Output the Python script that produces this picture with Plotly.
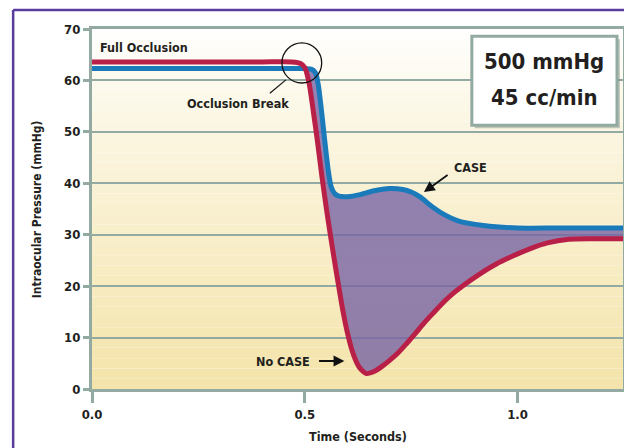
import plotly.graph_objects as go

# ---------------- data ----------------
t_no_case = [0.00, 0.10, 0.20, 0.30, 0.40, 0.47, 0.49, 0.50, 0.51, 0.52, 0.53, 0.54,
             0.55, 0.56, 0.57, 0.58, 0.59, 0.60, 0.61, 0.62, 0.63, 0.645, 0.66, 0.68,
             0.70, 0.72, 0.74, 0.76, 0.78, 0.80, 0.83, 0.85, 0.87, 0.91, 0.95, 0.99,
             1.03, 1.07, 1.12, 1.18, 1.25]
p_no_case = [63.6, 63.6, 63.6, 63.6, 63.6, 63.6, 63.3, 62.5, 59.5, 54.0, 48.0, 41.5,
             35.5, 30.0, 24.8, 19.8, 15.0, 11.0, 7.8, 5.5, 4.0, 3.0, 3.3, 4.3,
             5.6, 7.1, 8.9, 10.8, 12.8, 14.6, 17.2, 18.7, 20.0, 22.3, 24.3, 25.9,
             27.3, 28.4, 29.1, 29.2, 29.2]

t_case = [0.00, 0.10, 0.20, 0.30, 0.40, 0.50, 0.515, 0.525, 0.532, 0.538, 0.544, 0.55,
          0.556, 0.562, 0.57, 0.58, 0.60, 0.63, 0.66, 0.70, 0.73, 0.75, 0.77, 0.80,
          0.83, 0.86, 0.92, 1.00, 1.10, 1.25]
p_case = [62.3, 62.3, 62.3, 62.3, 62.3, 62.3, 62.2, 61.5, 59.0, 55.0, 50.5, 46.0,
          42.0, 39.3, 38.0, 37.5, 37.4, 37.8, 38.5, 39.0, 38.8, 38.3, 37.4, 35.4,
          33.8, 32.7, 31.8, 31.3, 31.3, 31.3]

x_ticks = [0.0, 0.5, 1.0]
x_tick_labels = ["0.0", "0.5", "1.0"]
y_ticks = [0, 10, 20, 30, 40, 50, 60, 70]

# ---------------- styling ----------------
FONT = "DejaVu Sans Condensed, Liberation Sans, sans-serif"
TXT = "#231f20"
GRID = "#93aaa3"
RED = "rgb(185,32,72)"
BLUE = "rgb(26,122,186)"
FILL = "rgba(120,100,165,0.8)"
X_MAX = 1.2477
SM = 0.75

fig = go.Figure()

# purple fill between the curves after the occlusion break
fill_idx_r = [i for i, t in enumerate(t_no_case) if t >= 0.5]
fill_idx_b = [i for i, t in enumerate(t_case) if t >= 0.5]
fig.add_trace(go.Scatter(x=[t_no_case[i] for i in fill_idx_r],
                         y=[p_no_case[i] for i in fill_idx_r],
                         mode="lines", line=dict(width=0, shape="spline", smoothing=SM),
                         hoverinfo="skip", showlegend=False))
fig.add_trace(go.Scatter(x=[t_case[i] for i in fill_idx_b],
                         y=[p_case[i] for i in fill_idx_b],
                         mode="lines", line=dict(width=0, shape="spline", smoothing=SM),
                         fill="tonexty", fillcolor=FILL,
                         hoverinfo="skip", showlegend=False))

# CASE curve (blue)
fig.add_trace(go.Scatter(x=t_case, y=p_case, mode="lines", name="CASE",
                         line=dict(color=BLUE, width=5, shape="spline", smoothing=SM),
                         showlegend=False))
# No CASE curve (red)
fig.add_trace(go.Scatter(x=t_no_case, y=p_no_case, mode="lines", name="No CASE",
                         line=dict(color=RED, width=5, shape="spline", smoothing=SM),
                         showlegend=False))

shapes = []
# gradient background bands (white at top -> pale yellow at bottom)
top = (255, 255, 255)
bot = (244, 228, 170)
n = 35
for k in range(n):
    y0 = 70 * k / n
    y1 = 70 * (k + 1) / n
    f = 1 - (k + 0.5) / n  # 1 at bottom, 0 at top
    f = f ** 0.85
    c = tuple(round(top[j] + (bot[j] - top[j]) * f) for j in range(3))
    shapes.append(dict(type="rect", xref="paper", yref="y", x0=0, x1=1, y0=y0, y1=y1,
                       fillcolor="rgb(%d,%d,%d)" % c, line=dict(width=0), layer="below"))

# occlusion break circle
shapes.append(dict(type="circle", xref="x", yref="y",
                   x0=0.493 - 0.0467, x1=0.493 + 0.0467, y0=63.4 - 3.9, y1=63.4 + 3.9,
                   line=dict(color="#111111", width=1.3)))
# leader line from circle to label
shapes.append(dict(type="line", xref="x", yref="y", x0=0.4556, y0=60.1, x1=0.418, y1=57.5,
                   line=dict(color="#111111", width=1.2)))

# parameter box (shadow + box)
shapes.append(dict(type="rect", xref="x", yref="y", x0=0.8995, x1=1.2406, y0=50.7, y1=68.0,
                   fillcolor="rgba(90,110,100,0.35)", line=dict(width=0)))
shapes.append(dict(type="rect", xref="x", yref="y", x0=0.8925, x1=1.2336, y0=51.3, y1=68.6,
                   fillcolor="white", line=dict(color=GRID, width=3)))

# outer purple frame
shapes.append(dict(type="line", xref="paper", yref="paper", x0=-0.1485, x1=-0.1485,
                   y0=1.053, y1=-0.25, line=dict(color="#5a3c9c", width=2.5)))
shapes.append(dict(type="line", xref="paper", yref="paper", x0=-0.1485, x1=1.05,
                   y0=1.053, y1=1.053, line=dict(color="#5a3c9c", width=2.5)))

LBL = 12.5
annotations = [
    dict(x=0.014, y=66.5, xref="x", yref="y", text="<b>Full Occlusion</b>",
         showarrow=False, xanchor="left", yanchor="middle", font=dict(size=LBL)),
    dict(x=0.468, y=55.6, xref="x", yref="y", text="<b>Occlusion Break</b>",
         showarrow=False, xanchor="right", yanchor="middle", font=dict(size=LBL)),
    dict(x=0.846, y=43.0, xref="x", yref="y", text="<b>CASE</b>",
         showarrow=False, xanchor="left", yanchor="middle", font=dict(size=LBL)),
    dict(x=0.780, y=38.3, ax=0.839, ay=41.8, xref="x", yref="y", axref="x", ayref="y",
         text="", showarrow=True, arrowhead=2, arrowsize=1.2, arrowwidth=1.8,
         arrowcolor="#111111"),
    dict(x=0.516, y=5.44, xref="x", yref="y", text="<b>No CASE</b>",
         showarrow=False, xanchor="right", yanchor="middle", font=dict(size=LBL)),
    dict(x=0.593, y=5.44, ax=0.530, ay=5.44, xref="x", yref="y", axref="x", ayref="y",
         text="", showarrow=True, arrowhead=2, arrowsize=1.2, arrowwidth=1.8,
         arrowcolor="#111111"),
    dict(x=1.063, y=63.6, xref="x", yref="y", text="<b>500 mmHg</b>", showarrow=False,
         xanchor="center", yanchor="middle", font=dict(size=22)),
    dict(x=1.063, y=56.6, xref="x", yref="y", text="<b>45 cc/min</b>", showarrow=False,
         xanchor="center", yanchor="middle", font=dict(size=22)),
    # axis titles
    dict(x=0.5, y=-0.1306, xref="paper", yref="paper", text="<b>Time (Seconds)</b>",
         showarrow=False, xanchor="center", yanchor="middle", font=dict(size=12.5)),
    dict(x=-0.103, y=0.5, xref="paper", yref="paper",
         text="<b>Intraocular Pressure (mmHg)</b>", textangle=-90,
         showarrow=False, xanchor="center", yanchor="middle", font=dict(size=12)),
]

fig.update_layout(
    width=624, height=440,
    margin=dict(l=84, r=6, t=21, b=59),
    paper_bgcolor="white",
    plot_bgcolor="white",
    font=dict(family=FONT, color=TXT, size=13),
    shapes=shapes,
    annotations=annotations,
    showlegend=False,
    xaxis=dict(range=[0, X_MAX], tickvals=x_ticks, ticktext=["<b>%s</b>" % s for s in x_tick_labels],
               showgrid=False, zeroline=False, showline=True, linecolor=GRID, linewidth=3,
               mirror=True, ticks="outside", ticklen=11, tickwidth=3, tickcolor=GRID,
               tickfont=dict(size=13, color=TXT, family=FONT)),
    yaxis=dict(range=[0, 70], tickvals=y_ticks, ticktext=["<b>%d</b>" % v for v in y_ticks],
               showgrid=True, gridcolor=GRID, gridwidth=2, zeroline=False,
               showline=True, linecolor=GRID, linewidth=3, mirror=True,
               ticks="outside", ticklen=6, tickwidth=3, tickcolor=GRID,
               tickfont=dict(size=13, color=TXT, family=FONT)),
)

fig.write_html("out.html")
